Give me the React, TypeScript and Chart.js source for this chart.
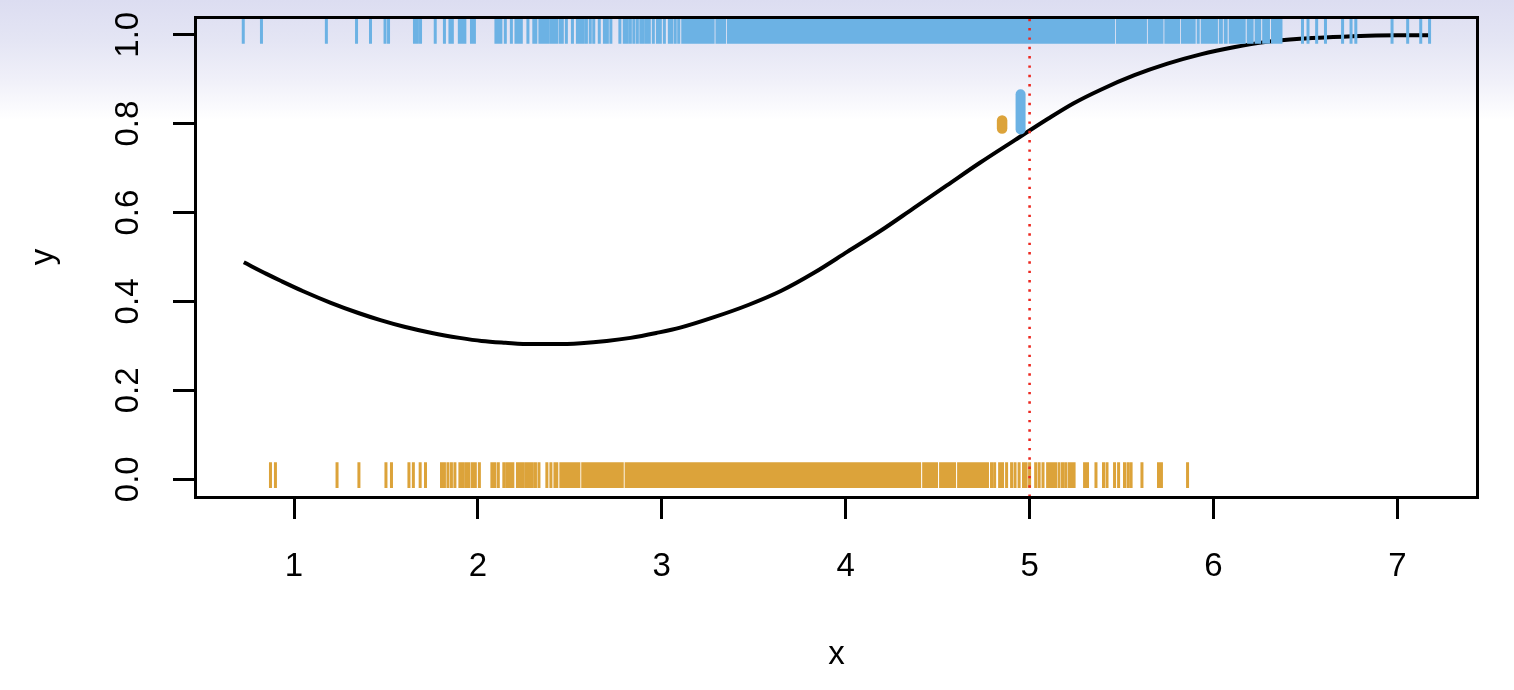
import React, { useEffect, useRef } from 'react';
import { Chart, registerables } from 'chart.js';

Chart.register(...registerables);

// ---------------- data ----------------
const xTickValues = [1, 2, 3, 4, 5, 6, 7];
const xTickLabels = ['1', '2', '3', '4', '5', '6', '7'];
const yTickValues = [0, 0.2, 0.4, 0.6, 0.8, 1.0];
const yTickLabels = ['0.0', '0.2', '0.4', '0.6', '0.8', '1.0'];

// fitted probability curve
const curveX = [0.727, 0.85, 0.93, 1.05, 1.2, 1.35, 1.47, 1.6, 1.75, 1.9, 2.02, 2.15, 2.29, 2.42, 2.56, 2.7, 2.83, 2.97, 3.1,
  3.28, 3.47, 3.65, 3.83, 4.01, 4.19, 4.37, 4.55, 4.73, 4.92, 5.1, 5.24, 5.39, 5.57, 5.75, 5.93, 6.11, 6.29, 6.47, 6.65, 6.84, 7.0, 7.18];
const curveY = [0.488, 0.462, 0.446, 0.423, 0.397, 0.374, 0.358, 0.343, 0.329, 0.318, 0.311, 0.307, 0.304, 0.304, 0.306, 0.311, 0.318, 0.329, 0.341,
  0.364, 0.392, 0.424, 0.465, 0.512, 0.559, 0.610, 0.661, 0.712, 0.763, 0.811, 0.846, 0.877, 0.909, 0.935, 0.956, 0.972, 0.984, 0.991, 0.995, 0.998, 0.999, 0.999];

// observations with y = 1
const obsOneX = [
  0.724, 0.823, 1.176, 1.340, 1.416, 1.495, 1.514, 1.655, 1.671, 1.688, 1.768, 1.818, 1.848, 1.861, 1.899, 1.913, 1.929, 1.965, 1.981,
  2.098, 2.111, 2.125, 2.149, 2.182, 2.207, 2.220, 2.236, 2.272, 2.304, 2.315, 2.337, 2.351, 2.367, 2.380, 2.397, 2.413, 2.429, 2.448,
  2.459, 2.481, 2.514, 2.541, 2.557, 2.573, 2.590, 2.611, 2.630, 2.660, 2.688, 2.704, 2.723, 2.772, 2.796, 2.812, 2.829, 2.848, 2.867,
  2.886, 2.899, 2.916, 2.932, 2.954, 2.976, 2.992, 3.014, 3.041, 3.054, 3.073, 3.092,
  3.114, 3.128, 3.141, 3.156, 3.170, 3.183, 3.198, 3.211, 3.226, 3.240, 3.252, 3.266, 3.279, 3.300, 3.314, 3.327, 3.341, 3.362, 3.377,
  3.390, 3.404, 3.419, 3.432, 3.446, 3.460, 3.473, 3.488, 3.501, 3.515, 3.530, 3.543, 3.557, 3.571, 3.584, 3.599, 3.612, 3.626, 3.641,
  3.654, 3.668, 3.682, 3.695, 3.710, 3.723, 3.737, 3.752, 3.765, 3.779, 3.793, 3.806, 3.821, 3.834, 3.848, 3.863, 3.876, 3.890, 3.904,
  3.917, 3.932, 3.945, 3.959, 3.974, 3.987, 4.001, 4.015, 4.028, 4.043, 4.056, 4.070, 4.085, 4.098, 4.112, 4.126, 4.139, 4.154, 4.167,
  4.181, 4.196, 4.209, 4.223, 4.237, 4.250, 4.265, 4.278, 4.292, 4.307, 4.320, 4.334, 4.348, 4.361, 4.376, 4.389, 4.403, 4.418, 4.431,
  4.445, 4.459, 4.472, 4.487, 4.500, 4.514, 4.529, 4.542, 4.556, 4.570, 4.583, 4.598, 4.611, 4.625, 4.640, 4.653, 4.667, 4.681, 4.694,
  4.709, 4.722, 4.736, 4.751, 4.764, 4.778, 4.792, 4.805, 4.820, 4.833, 4.847, 4.862, 4.875, 4.889, 4.903, 4.916, 4.931, 4.944, 4.958,
  4.973, 4.986, 5.000, 5.014, 5.027, 5.042, 5.055, 5.069, 5.084, 5.097, 5.111, 5.125, 5.138, 5.153, 5.166, 5.180, 5.195, 5.208, 5.222,
  5.236, 5.249, 5.264, 5.277, 5.291, 5.306, 5.319, 5.333, 5.347, 5.360, 5.375, 5.388, 5.402, 5.417, 5.430, 5.444, 5.457, 5.478, 5.492,
  5.506, 5.519, 5.534, 5.547, 5.561, 5.576, 5.589, 5.603, 5.617, 5.630, 5.651, 5.665, 5.679, 5.692, 5.707, 5.720, 5.741, 5.755, 5.769,
  5.782, 5.797, 5.810, 5.831, 5.845, 5.858, 5.871, 5.884, 5.895, 5.917, 5.939, 5.952, 5.966, 5.980, 5.993, 6.005, 6.016, 6.037, 6.043,
  6.064, 6.069, 6.091, 6.105, 6.118, 6.132, 6.146, 6.157, 6.167, 6.189, 6.203, 6.210, 6.232, 6.245, 6.251, 6.273, 6.286, 6.299, 6.321,
  6.335, 6.348, 6.360, 6.367,
  6.484, 6.514, 6.561, 6.609, 6.702, 6.748, 6.774, 6.971, 7.056, 7.127, 7.175,
];

// observations with y = 0
const obsZeroX = [
  0.872, 0.899, 1.234, 1.353, 1.500, 1.530, 1.625, 1.649, 1.686, 1.715, 1.802, 1.818, 1.837, 1.856, 1.875, 1.902, 1.918, 1.935, 1.951,
  1.970, 1.986, 2.008, 2.076, 2.092, 2.111, 2.141, 2.158, 2.174, 2.190, 2.215, 2.231, 2.247, 2.264, 2.280, 2.296, 2.313, 2.332,
  2.375, 2.397, 2.419, 2.429, 2.451, 2.464, 2.478, 2.491, 2.506, 2.518, 2.533, 2.549, 2.570, 2.583, 2.597, 2.612, 2.624, 2.638, 2.653,
  2.665, 2.679, 2.694, 2.706, 2.720, 2.735, 2.747, 2.761, 2.774, 2.785, 2.806, 2.819, 2.833, 2.848, 2.860, 2.874, 2.889, 2.901, 2.915,
  2.930, 2.942, 2.956, 2.971, 2.983, 2.997, 3.012, 3.024, 3.038, 3.053, 3.065, 3.079, 3.094, 3.106, 3.120, 3.135, 3.147, 3.161, 3.176,
  3.188, 3.202, 3.217, 3.229, 3.243, 3.258, 3.270, 3.284, 3.299, 3.311, 3.325, 3.340, 3.352, 3.366, 3.381, 3.393, 3.407, 3.422, 3.434,
  3.448, 3.463, 3.475, 3.489, 3.504, 3.516, 3.530, 3.545, 3.557, 3.571, 3.586, 3.598, 3.612, 3.627, 3.639, 3.653, 3.668, 3.680, 3.694,
  3.709, 3.721, 3.735, 3.750, 3.762, 3.776, 3.791, 3.803, 3.817, 3.832, 3.844, 3.858, 3.873, 3.885, 3.899, 3.914, 3.926, 3.940, 3.955,
  3.967, 3.981, 3.996, 4.008, 4.022, 4.037, 4.049, 4.063, 4.078, 4.090, 4.104, 4.119, 4.131, 4.145, 4.160, 4.172, 4.186, 4.201, 4.213,
  4.227, 4.242, 4.254, 4.268, 4.283, 4.295, 4.309, 4.324, 4.336, 4.350, 4.365, 4.377, 4.391, 4.402, 4.424, 4.437, 4.451, 4.466, 4.480,
  4.494, 4.516, 4.529, 4.543, 4.558, 4.570, 4.584, 4.592, 4.614, 4.627, 4.641, 4.656, 4.668, 4.682, 4.697, 4.709, 4.723, 4.738, 4.750,
  4.764, 4.771,
  4.793, 4.810, 4.837, 4.853, 4.875, 4.902, 4.921, 4.943, 4.967, 4.981, 5.000, 5.033, 5.052, 5.073, 5.098, 5.109, 5.125, 5.141, 5.160,
  5.179, 5.196, 5.215, 5.228, 5.242, 5.299, 5.315, 5.361, 5.402, 5.421, 5.462, 5.484, 5.516, 5.535, 5.552, 5.611, 5.701, 5.717, 5.859,
];

// two short interval markers near the cut-off
const markerX = [4.8505, 4.951];
const markerLow = [0.789, 0.787];
const markerHigh = [0.807, 0.866];

const cutoffX = 5;

// ---------------- layout / style ----------------
const W = 1514;
const H = 690;
const X_MIN = 0.4616;
const X_MAX = 7.4384;
const Y_MIN = -0.04;
const Y_MAX = 1.04;
const RUG_BELOW = 0.02;
const RUG_ABOVE = 0.038;

const BLUE = 'rgb(108,178,228)';
const ORANGE = 'rgb(220,163,58)';
const RED = 'rgb(236,40,32)';
const FONT_FAMILY = "'Liberation Sans', Arial, Helvetica, sans-serif";

const rugData = (xs: number[], level: number) =>
  xs.flatMap((x) => [
    { x, y: level - RUG_BELOW },
    { x, y: level + RUG_ABOVE },
    { x, y: null as any },
  ]);

const boxPlugin = {
  id: 'plotBox',
  afterDraw(chart: any) {
    const { ctx, chartArea } = chart;
    const { left, top, right, bottom } = chartArea;
    ctx.save();
    ctx.strokeStyle = '#000';
    ctx.lineWidth = 3;
    ctx.strokeRect(left + 0.5, top + 0.5, right - left - 1, bottom - top);
    ctx.restore();
  },
};

export default function App() {
  const ref = useRef<HTMLCanvasElement>(null);

  useEffect(() => {
    const canvas = ref.current;
    if (!canvas) return;
    const tickFont = { family: FONT_FAMILY, size: 33 };
    const titleFont = { family: FONT_FAMILY, size: 33 };
    const grid = {
      display: true,
      drawOnChartArea: false,
      drawTicks: true,
      tickLength: 22,
      tickWidth: 3,
      tickColor: '#000',
    };

    const chart = new Chart(canvas, {
      type: 'line',
      data: {
        datasets: [
          {
            label: 'cutoff',
            data: [
              { x: cutoffX, y: Y_MIN },
              { x: cutoffX, y: Y_MAX },
            ],
            borderColor: RED,
            borderWidth: 2.6,
            borderDash: [2.4, 6.93],
            borderCapStyle: 'butt',
            pointRadius: 0,
            order: 1,
          },
          {
            label: 'marker0',
            data: [
              { x: markerX[0], y: markerLow[0] },
              { x: markerX[0], y: markerHigh[0] },
            ],
            borderColor: ORANGE,
            borderWidth: 10.5,
            borderCapStyle: 'round',
            pointRadius: 0,
            order: 2,
          },
          {
            label: 'marker1',
            data: [
              { x: markerX[1], y: markerLow[1] },
              { x: markerX[1], y: markerHigh[1] },
            ],
            borderColor: BLUE,
            borderWidth: 10,
            borderCapStyle: 'round',
            pointRadius: 0,
            order: 2,
          },
          {
            label: 'y=1',
            data: rugData(obsOneX, 1),
            borderColor: BLUE,
            borderWidth: 3,
            borderCapStyle: 'butt',
            spanGaps: false,
            pointRadius: 0,
            order: 3,
          },
          {
            label: 'y=0',
            data: rugData(obsZeroX, 0),
            borderColor: ORANGE,
            borderWidth: 3,
            borderCapStyle: 'butt',
            spanGaps: false,
            pointRadius: 0,
            order: 3,
          },
          {
            label: 'fit',
            data: curveX.map((x, i) => ({ x, y: curveY[i] })),
            borderColor: '#000',
            borderWidth: 4,
            cubicInterpolationMode: 'monotone',
            pointRadius: 0,
            order: 4,
          },
        ] as any,
      },
      options: {
        animation: false,
        responsive: false,
        maintainAspectRatio: false,
        devicePixelRatio: 1,
        events: [],
        layout: { padding: { left: 0, top: 17, right: 36, bottom: 0 } },
        elements: { point: { radius: 0 } },
        plugins: {
          legend: { display: false },
          tooltip: { enabled: false },
        },
        scales: {
          x: {
            type: 'linear',
            position: 'bottom',
            min: X_MIN,
            max: X_MAX,
            afterBuildTicks: (s: any) => {
              s.ticks = xTickValues.map((v) => ({ value: v }));
            },
            afterFit: (s: any) => {
              s.height = 193;
              s.paddingLeft = 0;
              s.paddingRight = 0;
            },
            ticks: {
              callback: (_v: any, i: number) => xTickLabels[i],
              autoSkip: false,
              minRotation: 0,
              maxRotation: 0,
              padding: 28,
              color: '#000',
              font: tickFont,
            },
            grid,
            border: { display: false },
            title: {
              display: true,
              text: 'x',
              color: '#000',
              font: titleFont,
              padding: { top: 0, bottom: 15 },
            },
          },
          y: {
            type: 'linear',
            position: 'left',
            min: Y_MIN,
            max: Y_MAX,
            afterBuildTicks: (s: any) => {
              s.ticks = yTickValues.map((v) => ({ value: v }));
            },
            afterFit: (s: any) => {
              s.width = 195;
              s.paddingTop = 0;
              s.paddingBottom = 0;
            },
            ticks: {
              callback: (_v: any, i: number) => yTickLabels[i],
              autoSkip: false,
              minRotation: 90,
              maxRotation: 90,
              crossAlign: 'center',
              padding: 21,
              color: '#000',
              font: tickFont,
            },
            grid,
            border: { display: false },
            title: {
              display: true,
              text: 'y',
              color: '#000',
              font: titleFont,
              padding: { top: 24, bottom: 0 },
            },
          },
        },
      } as any,
      plugins: [boxPlugin],
    });

    return () => chart.destroy();
  }, []);

  return (
    <div
      style={{
        position: 'fixed',
        left: 0,
        top: 0,
        width: W,
        height: H,
        background:
          'linear-gradient(to bottom, #DCDDF1 0px, #E4E5F4 40px, #F0F0F9 80px, #FFFFFF 120px)',
      }}
    >
      <canvas ref={ref} width={W} height={H} style={{ display: 'block', width: W, height: H }} />
    </div>
  );
}
